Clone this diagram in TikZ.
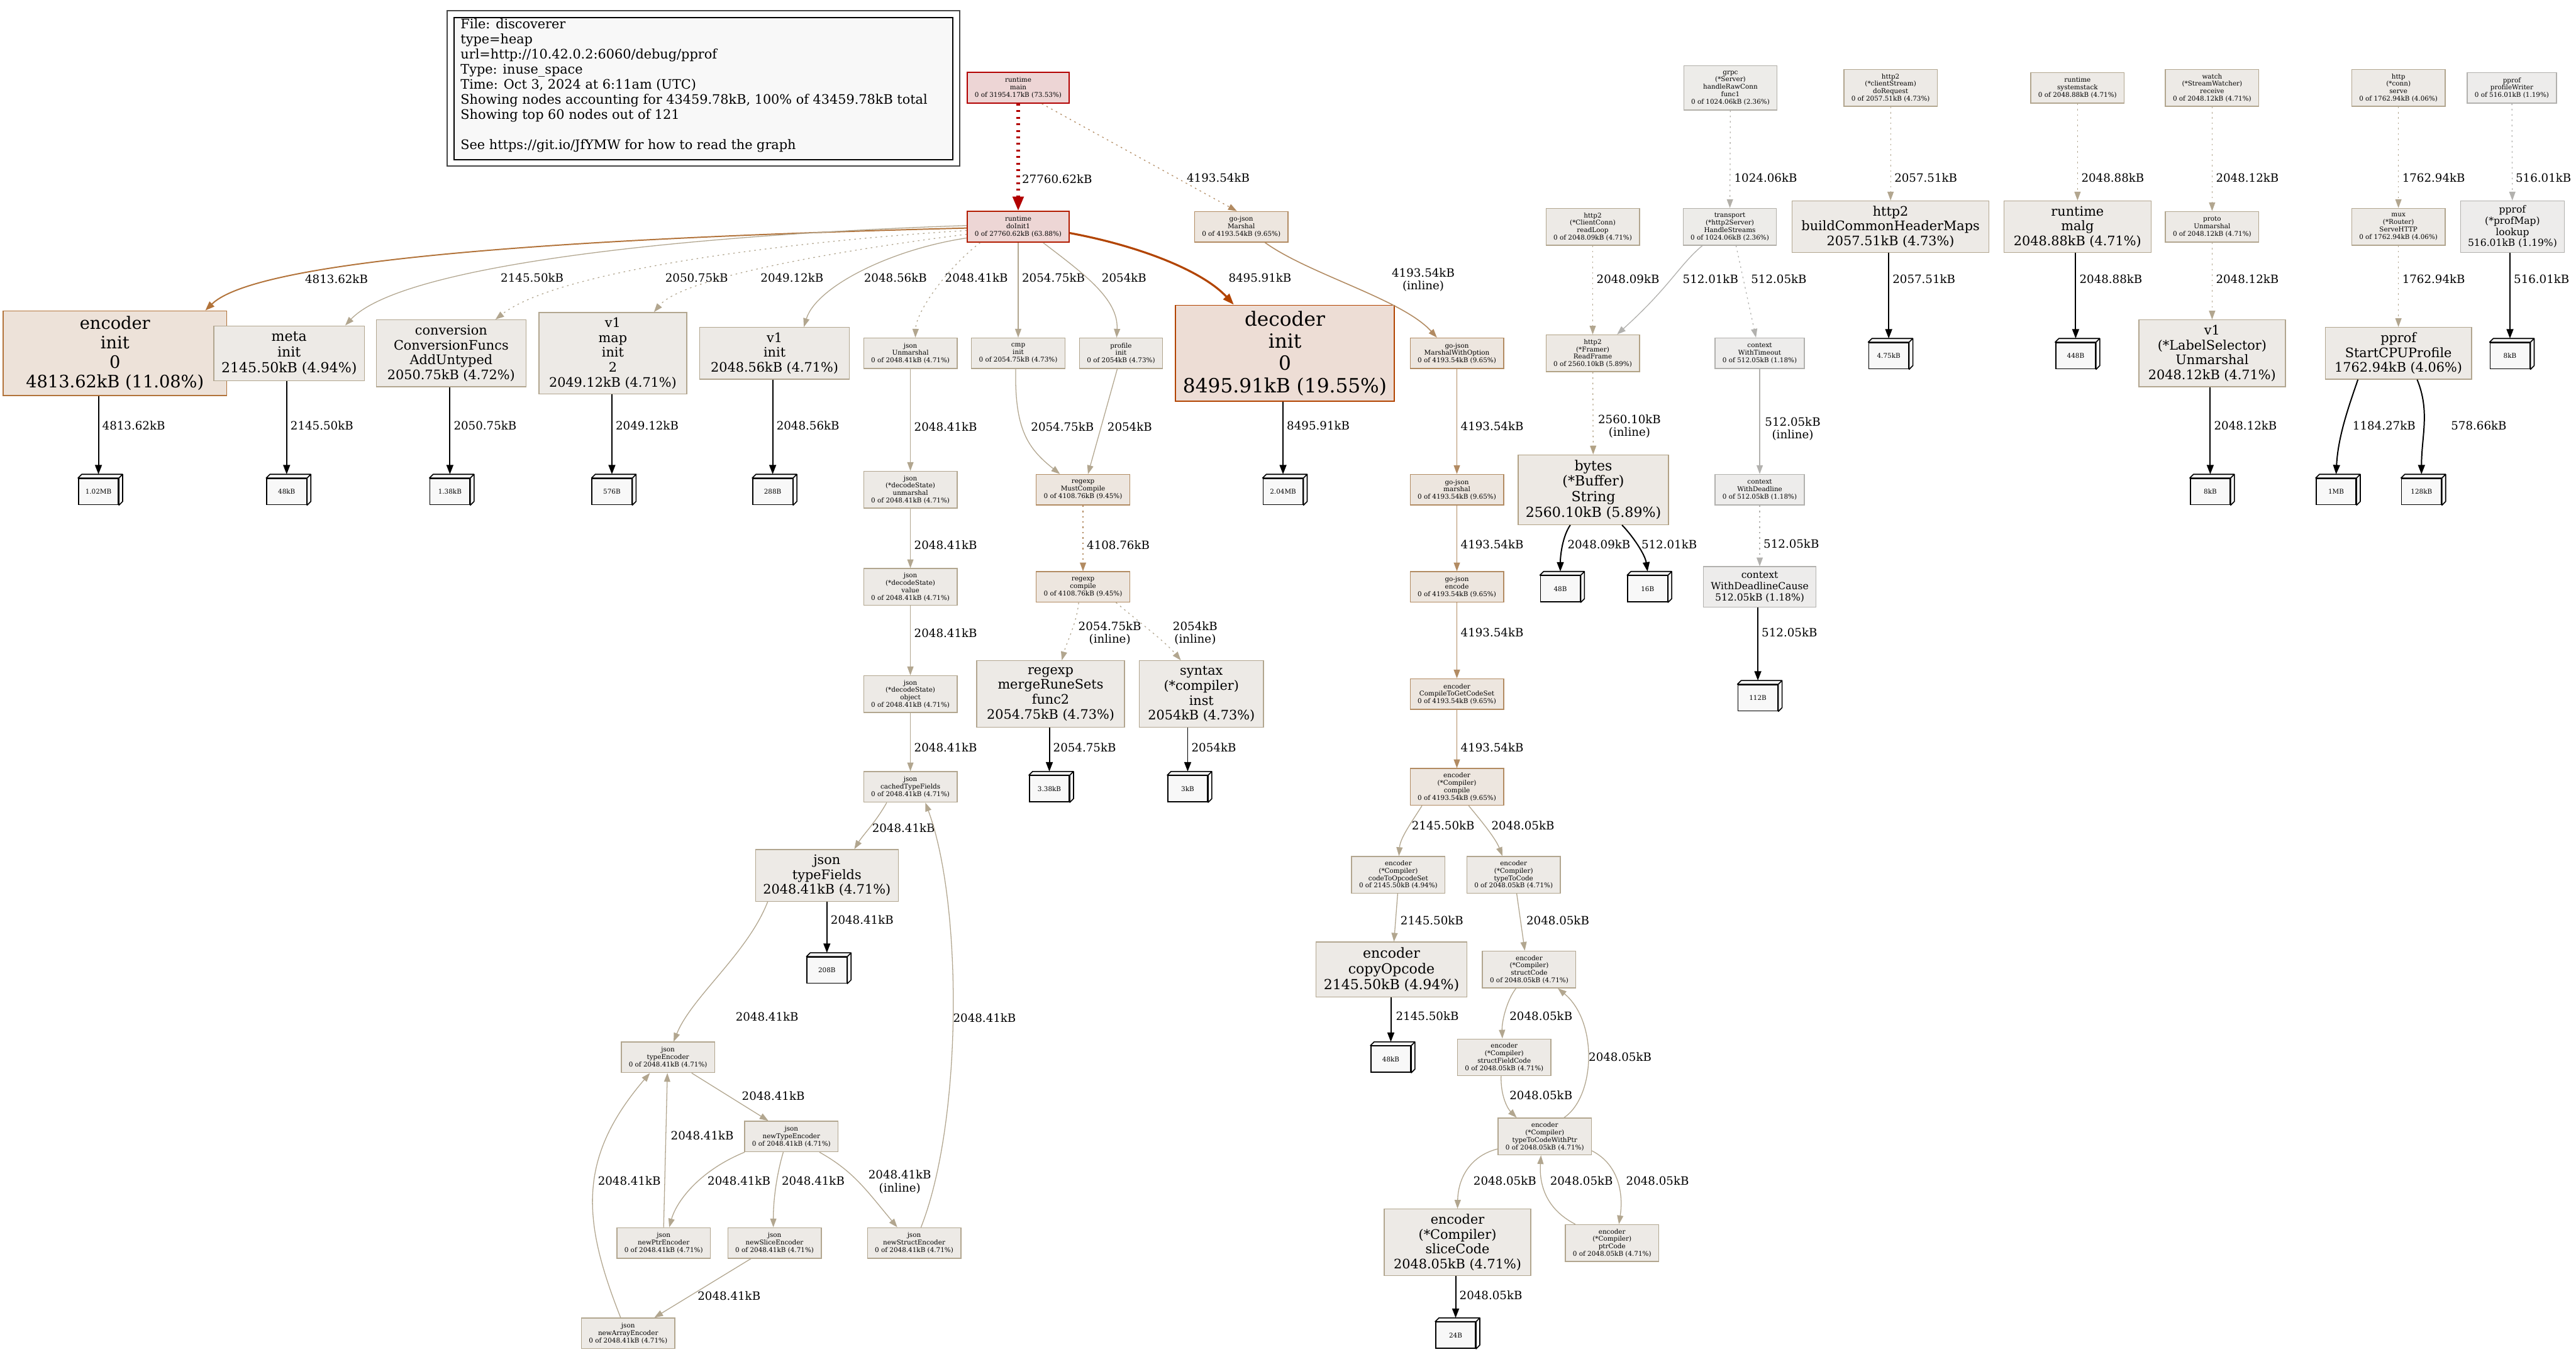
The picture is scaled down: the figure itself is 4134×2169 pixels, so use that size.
\documentclass[tikz,border=0pt]{standalone}
\usepackage{fontspec}
\setmainfont{DejaVu Serif}
\usetikzlibrary{arrows.meta,calc}
\definecolor{cRed}{HTML}{B20000}
\definecolor{fRed}{HTML}{EDD5D5}
\definecolor{cInit}{HTML}{B21B00}
\definecolor{fInit}{HTML}{EDD6D5}
\definecolor{cDec}{HTML}{B24400}
\definecolor{fDec}{HTML}{EDDDD5}
\definecolor{cEnc}{HTML}{B2733A}
\definecolor{fEnc}{HTML}{EDE2D9}
\definecolor{cGo}{HTML}{B28B62}
\definecolor{fGo}{HTML}{EDE6DF}
\definecolor{cTan}{HTML}{B2A68F}
\definecolor{fTan}{HTML}{EDEAE6}
\definecolor{cByt}{HTML}{B2A285}
\definecolor{fByt}{HTML}{EDE9E4}
\definecolor{cGr}{HTML}{B2B1AE}
\definecolor{fGr}{HTML}{EDECEB}
\definecolor{cGrB}{HTML}{B2AFA8}
\definecolor{fGrB}{HTML}{EDECE9}
\definecolor{leaffill}{HTML}{F8F8F8}
\definecolor{legfill}{HTML}{F8F8F8}
\definecolor{legout}{HTML}{444444}
\newcommand\myfA{\fontsize{10.5}{11.9}\selectfont}
\newcommand\myfL{\fontsize{18.4}{20.5}\selectfont}
\newcommand\myfG{\fontsize{21}{24.2}\selectfont}
\newcommand\myfP{\fontsize{15.7}{17.8}\selectfont}
\newcommand\myfM{\fontsize{21}{23.8}\selectfont}
\newcommand\myfN{\fontsize{22.3}{25.2}\selectfont}
\newcommand\myfE{\fontsize{27.5}{31.2}\selectfont}
\newcommand\myfD{\fontsize{31.5}{35.7}\selectfont}
\newcommand\leafnode[4]{%
  \node[leafs] (#1) at ({#2-3},{#3+3}) {#4};
  \draw[leafline] (#1.north west) -- ([shift={(6,-6)}]#1.north west) -- ([shift={(6,-6)}]#1.north east) -- ([shift={(6,-6)}]#1.south east) -- (#1.south east) -- (#1.north east) -- cycle (#1.north east) -- ([shift={(6,-6)}]#1.north east);
}
\tikzset{
  gn/.style={draw, rectangle, align=center, inner xsep=12pt, inner ysep=0pt, line width=1.4pt},
  s3/.style={gn, font=\myfA, minimum height=49},
  s4/.style={gn, font=\myfA, minimum height=59},
  s5/.style={gn, font=\myfA, minimum height=71},
  kTan/.style={draw=cTan, fill=fTan},
  kGo/.style={draw=cGo, fill=fGo},
  kByt/.style={draw=cByt, fill=fByt},
  kGr/.style={draw=cGr, fill=fGr},
  kGrB/.style={draw=cGrB, fill=fGrB},
  lab/.style={font=\myfL, align=center, inner sep=0pt},
  lw/.style={lab, anchor=west},
  ed/.style={line width=1.3pt, -{Triangle[length=14pt,width=10pt]}},
  dotd/.style={dash pattern=on 2.5pt off 6pt},
  leafs/.style={draw=black, fill=leaffill, line width=1.6pt, minimum width=64, minimum height=42, inner sep=0pt, font=\myfA},
  leafline/.style={draw=black, fill=leaffill, line width=1.6pt, line join=round},
  le/.style={draw=black, line width=2pt, -{Triangle[length=15pt,width=11pt]}},
}
\begin{document}
\begin{tikzpicture}[x=1pt,y=-1pt]
\useasboundingbox[fill=white] (0,0) rectangle (4134,2169);

% legend
\node[draw=legout,line width=2pt,minimum width=822,minimum height=249,anchor=north west,inner sep=0pt] (lego) at (717,16) {};
\node[draw=black,fill=legfill,line width=2pt,minimum width=800,minimum height=228,anchor=north west,inner sep=0pt] (legi) at (728,27) {};
\node[font=\myfG,align=left,anchor=north west,inner sep=0pt] (legt) at (739,30) {File: discoverer\\type=heap\\url=http://10.42.0.2:6060/debug/pprof\\Type: inuse\_space\\Time: Oct 3, 2024 at 6:11am (UTC)\\Showing nodes accounting for 43459.78kB, 100\% of 43459.78kB total\\Showing top 60 nodes out of 121\\~\\See https://git.io/JfYMW for how to read the graph};

% row 141
\node[s3, draw=cRed, fill=fRed, line width=2pt] (main) at (1634,141) {runtime\\main\\0 of 31954.17kB (73.53\%)};
\node[s5, kGrB] (grpc) at (2777,141) {grpc\\(*Server)\\handleRawConn\\func1\\0 of 1024.06kB (2.36\%)};
\node[s4, kTan] (doreq) at (3034,141) {http2\\(*clientStream)\\doRequest\\0 of 2057.51kB (4.73\%)};
\node[s3, kTan] (sysstack) at (3334,141) {runtime\\systemstack\\0 of 2048.88kB (4.71\%)};
\node[s4, kTan] (watch) at (3550,141) {watch\\(*StreamWatcher)\\receive\\0 of 2048.12kB (4.71\%)};
\node[s4, kTan] (httpserve) at (3849,141) {http\\(*conn)\\serve\\0 of 1762.94kB (4.06\%)};
\node[s3, kGr] (profw) at (4031,141) {pprof\\profileWriter\\0 of 516.01kB (1.19\%)};

% row 364
\node[s3, draw=cInit, fill=fInit, line width=2pt] (doinit) at (1634,364) {runtime\\doInit1\\0 of 27760.62kB (63.88\%)};
\node[s3, kGo] (gjm) at (1992,364) {go-json\\Marshal\\0 of 4193.54kB (9.65\%)};
\node[s4, kTan] (readloop) at (2556,364) {http2\\(*ClientConn)\\readLoop\\0 of 2048.09kB (4.71\%)};
\node[s4, kGrB] (hstreams) at (2776,364) {transport\\(*http2Server)\\HandleStreams\\0 of 1024.06kB (2.36\%)};
\node[gn, kTan, font=\myfM, minimum width=316, minimum height=83] (bchm) at (3034,364) {http2\\buildCommonHeaderMaps\\2057.51kB (4.73\%)};
\node[gn, kTan, font=\myfM, minimum width=236, minimum height=83] (malg) at (3334,364) {runtime\\malg\\2048.88kB (4.71\%)};
\node[s3, kTan] (protou) at (3550,364) {proto\\Unmarshal\\0 of 2048.12kB (4.71\%)};
\node[s4, kTan] (mux) at (3849,364) {mux\\(*Router)\\ServeHTTP\\0 of 1762.94kB (4.06\%)};
\node[gn, kGr, font=\myfP, minimum width=167, minimum height=83] (lookup) at (4032,364) {pprof\\(*profMap)\\lookup\\516.01kB (1.19\%)};

% row 567
\node[gn, draw=cEnc, fill=fEnc, font=\myfE, minimum width=359, minimum height=136] (encinit) at (184.5,567) {encoder\\init\\0\\4813.62kB (11.08\%)};
\node[gn, kTan, font=\myfN, minimum width=242, minimum height=88] (metainit) at (464,567) {meta\\init\\2145.50kB (4.94\%)};
\node[gn, kTan, font=\myfM, minimum width=240, minimum height=107] (conv) at (724,567) {conversion\\ConversionFuncs\\AddUntyped\\2050.75kB (4.72\%)};
\node[gn, kTan, font=\myfM, minimum width=237, minimum height=131] (v1map) at (983.5,567) {v1\\map\\init\\2\\2049.12kB (4.71\%)};
\node[gn, kTan, font=\myfM, minimum width=240, minimum height=83] (v1init) at (1243,567) {v1\\init\\2048.56kB (4.71\%)};
\node[s3, kTan] (jsonu) at (1461,567) {json\\Unmarshal\\0 of 2048.41kB (4.71\%)};
\node[s3, kTan] (cmpinit) at (1634,567) {cmp\\init\\0 of 2054.75kB (4.73\%)};
\node[s3, kTan] (profinit) at (1799,567) {profile\\init\\0 of 2054kB (4.73\%)};
\node[gn, draw=cDec, fill=fDec, font=\myfD, minimum width=348, minimum height=154, line width=2pt] (decinit) at (2062,567) {decoder\\init\\0\\8495.91kB (19.55\%)};
\node[s3, kGo] (gjmwo) at (2338,567) {go-json\\MarshalWithOption\\0 of 4193.54kB (9.65\%)};
\node[s4, kByt] (readframe) at (2556,567) {http2\\(*Framer)\\ReadFrame\\0 of 2560.10kB (5.89\%)};
\node[s3, kGr] (withtimeout) at (2824,567) {context\\WithTimeout\\0 of 512.05kB (1.18\%)};
\leafnode{l475}{3034}{568}{4.75kB}
\leafnode{l448}{3334}{568}{448B}
\node[gn, kTan, font=\myfM, minimum width=235, minimum height=107] (labelsel) at (3550,567) {v1\\(*LabelSelector)\\Unmarshal\\2048.12kB (4.71\%)};
\node[gn, kTan, font=\myfM, minimum width=235, minimum height=83] (cpuprof) at (3849,567) {pprof\\StartCPUProfile\\1762.94kB (4.06\%)};
\leafnode{l8k}{4031}{568}{8kB}

% row 786
\leafnode{l102}{161}{786}{1.02MB}
\leafnode{l48k}{463}{786}{48kB}
\leafnode{l138}{725}{786}{1.38kB}
\leafnode{l576}{985}{786}{576B}
\leafnode{l288}{1243}{786}{288B}
\node[s4, kTan] (jsonunm) at (1461,786) {json\\(*decodeState)\\unmarshal\\0 of 2048.41kB (4.71\%)};
\node[s3, kGo] (mustc) at (1738,786) {regexp\\MustCompile\\0 of 4108.76kB (9.45\%)};
\leafnode{l204}{2062}{786}{2.04MB}
\node[s3, kGo] (gjmarsh) at (2338,786) {go-json\\marshal\\0 of 4193.54kB (9.65\%)};
\node[gn, kByt, font=\myfN, minimum width=240, minimum height=112] (bytesstr) at (2557,786) {bytes\\(*Buffer)\\String\\2560.10kB (5.89\%)};
\node[s3, kGr] (withdl) at (2824,786) {context\\WithDeadline\\0 of 512.05kB (1.18\%)};
\leafnode{l8kb}{3550}{786}{8kB}
\leafnode{l1mb}{3752}{786}{1MB}
\leafnode{l128k}{3889}{786}{128kB}

% row 942
\node[s4, kTan] (jsonval) at (1461,942) {json\\(*decodeState)\\value\\0 of 2048.41kB (4.71\%)};
\node[s3, kGo] (rcompile) at (1738,942) {regexp\\compile\\0 of 4108.76kB (9.45\%)};
\node[s3, kGo] (gjenc) at (2338,942) {go-json\\encode\\0 of 4193.54kB (9.65\%)};
\leafnode{l48b}{2507}{942}{48B}
\leafnode{l16b}{2647}{942}{16B}
\node[gn, kGr, font=\myfP, minimum width=179, minimum height=65] (wdcause) at (2824,942) {context\\WithDeadlineCause\\512.05kB (1.18\%)};

% row 1114
\node[s4, kTan] (jsonobj) at (1461,1114) {json\\(*decodeState)\\object\\0 of 2048.41kB (4.71\%)};
\node[gn, kTan, font=\myfM, minimum width=237, minimum height=107] (mrs) at (1686,1114) {regexp\\mergeRuneSets\\func2\\2054.75kB (4.73\%)};
\node[gn, kTan, font=\myfM, minimum width=199, minimum height=107] (sinst) at (1928,1114) {syntax\\(*compiler)\\inst\\2054kB (4.73\%)};
\node[s3, kGo] (ctgcs) at (2338,1114) {encoder\\CompileToGetCodeSet\\0 of 4193.54kB (9.65\%)};
\leafnode{l112}{2824}{1117}{112B}

% row 1263
\node[s3, kTan] (ctf) at (1461,1263) {json\\cachedTypeFields\\0 of 2048.41kB (4.71\%)};
\leafnode{l338}{1687}{1263}{3.38kB}
\leafnode{l3k}{1909}{1263}{3kB}
\node[s4, kGo] (ecomp) at (2338,1263) {encoder\\(*Compiler)\\compile\\0 of 4193.54kB (9.65\%)};

% row 1404
\node[gn, kTan, font=\myfM, minimum width=229, minimum height=83] (tfields) at (1327,1405) {json\\typeFields\\2048.41kB (4.71\%)};
\node[s4, kTan] (c2os) at (2244,1404) {encoder\\(*Compiler)\\codeToOpcodeSet\\0 of 2145.50kB (4.94\%)};
\node[s4, kTan] (t2c) at (2429,1404) {encoder\\(*Compiler)\\typeToCode\\0 of 2048.05kB (4.71\%)};

% row 1556
\leafnode{l208}{1330}{1554}{208B}
\node[gn, kTan, font=\myfN, minimum width=242, minimum height=88] (copyop) at (2233,1556) {encoder\\copyOpcode\\2145.50kB (4.94\%)};
\node[s4, kTan] (scode) at (2454,1556) {encoder\\(*Compiler)\\structCode\\0 of 2048.05kB (4.71\%)};

% row 1697
\node[s3, kTan] (tenc) at (1072,1697) {json\\typeEncoder\\0 of 2048.41kB (4.71\%)};
\leafnode{l48kb}{2235}{1697}{48kB}
\node[s4, kTan] (sfcode) at (2414,1697) {encoder\\(*Compiler)\\structFieldCode\\0 of 2048.05kB (4.71\%)};

% row 1824
\node[s3, kTan] (ntenc) at (1270,1824) {json\\newTypeEncoder\\0 of 2048.41kB (4.71\%)};
\node[s4, kTan] (t2cwp) at (2479,1824) {encoder\\(*Compiler)\\typeToCodeWithPtr\\0 of 2048.05kB (4.71\%)};

% row 1995
\node[s3, kTan] (nptr) at (1065,1995) {json\\newPtrEncoder\\0 of 2048.41kB (4.71\%)};
\node[s3, kTan] (nslice) at (1243,1995) {json\\newSliceEncoder\\0 of 2048.41kB (4.71\%)};
\node[s3, kTan] (nstruct) at (1467,1995) {json\\newStructEncoder\\0 of 2048.41kB (4.71\%)};
\node[gn, kTan, font=\myfM, minimum width=235, minimum height=107] (slicec) at (2339,1994) {encoder\\(*Compiler)\\sliceCode\\2048.05kB (4.71\%)};
\node[s4, kTan] (ptrc) at (2587,1995) {encoder\\(*Compiler)\\ptrCode\\0 of 2048.05kB (4.71\%)};

% row 2140
\node[s3, kTan] (narr) at (1008,2140) {json\\newArrayEncoder\\0 of 2048.41kB (4.71\%)};
\leafnode{l24}{2339}{2140}{24B}

% ---------------- edges ----------------
\draw[ed, cRed, line width=5.5pt, dash pattern=on 3pt off 7.5pt, -{Triangle[length=23pt,width=17pt]}] (main) -- (doinit);
\node[lw] (b1) at (1640,287) {27760.62kB};
\draw[ed, cGo, dotd] ([shift={(38,0)}]main.south) -- ([shift={(-7,0)}]gjm.north);
\node[lab] (b2) at (1955,285) {4193.54kB};
\draw[ed, cGrB, dotd] (grpc) -- (hstreams);
\node[lw] (b3) at (2783,285) {1024.06kB};
\draw[ed, cTan, dotd] (doreq) -- (bchm);
\node[lw] (b4) at (3040,285) {2057.51kB};
\draw[ed, cTan, dotd] (sysstack) -- (malg);
\node[lw] (b5) at (3340,285) {2048.88kB};
\draw[ed, cTan, dotd] (watch) -- (protou);
\node[lw] (b6) at (3556,285) {2048.12kB};
\draw[ed, cTan, dotd] (httpserve) -- (mux);
\node[lw] (b7) at (3855,285) {1762.94kB};
\draw[ed, cGr, dotd] (profw) -- (lookup);
\node[lw] (b8) at (4037,285) {516.01kB};

\draw[ed, cTan, dotd] (readloop) -- (readframe);
\node[lw] (b9) at (2562,448) {2048.09kB};
\draw[ed, cGr] ([shift={(-44,0)}]hstreams.south) .. controls (2695,425) and (2680,460) .. ([shift={(39,0)}]readframe.north);
\node[lab] (b10) at (2745,448) {512.01kB};
\draw[ed, cGr, dotd] ([shift={(10,0)}]hstreams.south) -- ([shift={(-6,0)}]withtimeout.north);
\node[lw] (b11) at (2810,448) {512.05kB};
\draw[le] (bchm.south -| l475) -- ([yshift=6pt]l475.north);
\node[lw] (b12) at (3037,448) {2057.51kB};
\draw[le] (malg.south -| l448) -- ([yshift=6pt]l448.north);
\node[lw] (b13) at (3337,448) {2048.88kB};
\draw[ed, cTan, dotd] (protou) -- (labelsel);
\node[lw] (b14) at (3556,448) {2048.12kB};
\draw[ed, cTan, dotd] (mux) -- (cpuprof);
\node[lw] (b15) at (3855,448) {1762.94kB};
\draw[le] (lookup.south -| l8k) -- ([yshift=6pt]l8k.north);
\node[lw] (b16) at (4034,448) {516.01kB};

% fan from doInit1
\draw[ed, cEnc, line width=2pt, -{Triangle[length=15pt,width=11pt]}] ([shift={(0,2)}]doinit.west) .. controls (1000,380) and (420,410) .. ([shift={(145,0)}]encinit.north);
\node[lab] (b17) at (540,448) {4813.62kB};
\draw[ed, cTan] ([shift={(0,-2)}]doinit.west) .. controls (1150,375) and (650,420) .. ([shift={(90,0)}]metainit.north);
\node[lab] (b18) at (854,446) {2145.50kB};
\draw[ed, cTan, dotd] ([shift={(0,6)}]doinit.west) .. controls (1300,385) and (900,430) .. ([shift={(71,0)}]conv.north);
\node[lab] (b19) at (1118,446) {2050.75kB};
\draw[ed, cTan, dotd] ([shift={(0,12)}]doinit.west) .. controls (1400,395) and (1100,440) .. ([shift={(66,0)}]v1map.north);
\node[lab] (b20) at (1271,446) {2049.12kB};
\draw[ed, cTan] ([shift={(0,18)}]doinit.west) .. controls (1430,400) and (1310,460) .. ([shift={(47,0)}]v1init.north);
\node[lab] (b21) at (1437,446) {2048.56kB};
\draw[ed, cTan, dotd] ([shift={(-61,0)}]doinit.south) .. controls (1520,430) and (1470,500) .. ([shift={(8,0)}]jsonu.north);
\node[lab] (b22) at (1567,446) {2048.41kB};
\draw[ed, cTan] (doinit) -- (cmpinit);
\node[lw] (b23) at (1640,446) {2054.75kB};
\draw[ed, cTan] ([shift={(40,0)}]doinit.south) .. controls (1740,440) and (1795,480) .. ([shift={(-7,0)}]profinit.north);
\node[lw] (b24) at (1768,446) {2054kB};
\draw[ed, cDec, line width=3.2pt, -{Triangle[length=18pt,width=13pt]}] ([shift={(0,10)}]doinit.east) .. controls (1830,395) and (1930,435) .. ([shift={(-82,0)}]decinit.north);
\node[lab] (b25) at (2022,446) {8495.91kB};
\draw[ed, cGo, line width=1.6pt] ([shift={(38,0)}]gjm.south) .. controls (2100,440) and (2250,480) .. ([shift={(-32,0)}]gjmwo.north);
\node[lab] (b26) at (2284,449) {4193.54kB\\(inline)};

% row 567 -> 786
\draw[le] (encinit.south -| l102) -- ([yshift=6pt]l102.north);
\node[lw] (b27) at (164,683) {4813.62kB};
\draw[le] (metainit.south -| l48k) -- ([yshift=6pt]l48k.north);
\node[lw] (b28) at (466,683) {2145.50kB};
\draw[le] (conv.south -| l138) -- ([yshift=6pt]l138.north);
\node[lw] (b29) at (728,683) {2050.75kB};
\draw[le] (v1map.south -| l576) -- ([yshift=6pt]l576.north);
\node[lw] (b30) at (988,683) {2049.12kB};
\draw[le] (v1init.south -| l288) -- ([yshift=6pt]l288.north);
\node[lw] (b31) at (1246,683) {2048.56kB};
\draw[ed, cTan] (jsonu) -- (jsonunm);
\node[lw] (b32) at (1467,685) {2048.41kB};
\draw[ed, cTan] ([shift={(-4,0)}]cmpinit.south) .. controls (1628,690) and (1650,720) .. ([shift={(-37,0)}]mustc.north);
\node[lab] (b33) at (1705,685) {2054.75kB};
\draw[ed, cTan] ([shift={(-6,0)}]profinit.south) -- ([shift={(8,0)}]mustc.north);
\node[lab] (b34) at (1813,685) {2054kB};
\draw[le] (decinit.south -| l204) -- ([yshift=6pt]l204.north);
\node[lw] (b35) at (2065,683) {8495.91kB};
\draw[ed, cGo, line width=1.6pt] (gjmwo) -- (gjmarsh);
\node[lw] (b36) at (2344,684) {4193.54kB};
\draw[ed, cByt, dotd] (readframe) -- (bytesstr);
\node[lab] (b37) at (2615,684) {2560.10kB\\(inline)};
\draw[ed, cGr] (withtimeout) -- (withdl);
\node[lab] (b38) at (2877,688) {512.05kB\\(inline)};
\draw[le] (labelsel.south -| l8kb) -- ([yshift=6pt]l8kb.north);
\node[lw] (b39) at (3553,683) {2048.12kB};
\draw[le] ([shift={(-65,0)}]cpuprof.south) .. controls (3770,650) and (3752,700) .. ([yshift=6pt]l1mb.north);
\node[lab] (b40) at (3826,683) {1184.27kB};
\draw[le] ([shift={(30,0)}]cpuprof.south) .. controls (3900,660) and (3886,700) .. ([yshift=6pt]l128k.north);
\node[lab] (b41) at (3978,683) {578.66kB};

% row 786 -> 942
\draw[ed, cTan] (jsonunm) -- (jsonval);
\node[lw] (b42) at (1467,875) {2048.41kB};
\draw[ed, cGo, dotd] (mustc) -- (rcompile);
\node[lw] (b43) at (1744,875) {4108.76kB};
\draw[ed, cGo, line width=1.6pt] (gjmarsh) -- (gjenc);
\node[lw] (b44) at (2344,874) {4193.54kB};
\draw[le] ([shift={(-37,0)}]bytesstr.south) .. controls (2508,860) and (2504,890) .. ([yshift=6pt]l48b.north);
\node[lab] (b45) at (2566,874) {2048.09kB};
\draw[le] ([shift={(46,0)}]bytesstr.south) .. controls (2620,860) and (2640,890) .. ([yshift=6pt]l16b.north);
\node[lw] (b46) at (2634,874) {512.01kB};
\draw[ed, cGr, dotd] (withdl) -- (wdcause);
\node[lw] (b47) at (2830,873) {512.05kB};

% row 942 -> 1114
\draw[ed, cTan] (jsonval) -- (jsonobj);
\node[lw] (b48) at (1467,1016) {2048.41kB};
\draw[ed, cTan, dotd] ([shift={(-7,0)}]rcompile.south) .. controls (1728,1000) and (1712,1030) .. ([shift={(18,0)}]mrs.north);
\node[lab] (b49) at (1781,1016) {2054.75kB\\(inline)};
\draw[ed, cTan, dotd] ([shift={(53,0)}]rcompile.south) .. controls (1830,1000) and (1870,1030) .. ([shift={(-33,0)}]sinst.north);
\node[lab] (b50) at (1918,1016) {2054kB\\(inline)};
\draw[ed, cGo, line width=1.6pt] (gjenc) -- (ctgcs);
\node[lw] (b51) at (2344,1015) {4193.54kB};
\draw[le] (wdcause.south -| l112) -- ([yshift=6pt]l112.north);
\node[lw] (b52) at (2827,1015) {512.05kB};

% row 1114 -> 1263
\draw[ed, cTan] (jsonobj) -- (ctf);
\node[lw] (b53) at (1467,1200) {2048.41kB};
\draw[le] (mrs.south -| l338) -- ([yshift=6pt]l338.north);
\node[lw] (b54) at (1690,1200) {2054.75kB};
\draw[le] (sinst.south -| l3k) -- ([yshift=6pt]l3k.north);
\node[lw] (b55) at (1912,1200) {2054kB};
\draw[ed, cGo, line width=1.6pt] (ctgcs) -- (ecomp);
\node[lw] (b56) at (2344,1200) {4193.54kB};

% json lower
\draw[ed, cTan] ([shift={(-38,0)}]ctf.south) .. controls (1405,1320) and (1385,1340) .. ([shift={(44,0)}]tfields.north);
\node[lab] (b57) at (1450,1329) {2048.41kB};
\draw[le] (tfields.south -| l208) -- ([yshift=6pt]l208.north);
\node[lw] (b58) at (1333,1476) {2048.41kB};
\draw[ed, cTan] ([shift={(-95,0)}]tfields.south) .. controls (1200,1530) and (1110,1600) .. ([shift={(9,0)}]tenc.north);
\node[lab] (b59) at (1231,1632) {2048.41kB};
\draw[ed, cTan] ([shift={(11,0)}]nstruct.north) .. controls (1545,1800) and (1545,1450) .. ([shift={(24,0)}]ctf.south);
\node[lab] (b60) at (1580,1634) {2048.41kB};
\draw[ed, cTan] ([shift={(38,0)}]tenc.south) -- ([shift={(-37,0)}]ntenc.north);
\node[lab] (b61) at (1241,1759) {2048.41kB};
\draw[ed, cTan] (nptr.north) -- ([shift={(-1,0)}]tenc.south);
\node[lab] (b62) at (1127,1822) {2048.41kB};
\draw[ed, cTan] ([shift={(-12,0)}]narr.north) .. controls (935,1960) and (925,1860) .. ([shift={(-29,0)}]tenc.south);
\node[lab] (b63) at (1010,1895) {2048.41kB};
\draw[ed, cTan] ([shift={(-75,0)}]ntenc.south) .. controls (1120,1880) and (1085,1930) .. ([shift={(9,0)}]nptr.north);
\node[lab] (b64) at (1186,1895) {2048.41kB};
\draw[ed, cTan] ([shift={(-13,0)}]ntenc.south) .. controls (1245,1890) and (1241,1930) .. ([shift={(-2,0)}]nslice.north);
\node[lab] (b65) at (1305,1895) {2048.41kB};
\draw[ed, cTan] ([shift={(45,0)}]ntenc.south) .. controls (1370,1880) and (1390,1910) .. ([shift={(-27,0)}]nstruct.north);
\node[lab] (b66) at (1444,1897) {2048.41kB\\(inline)};
\draw[ed, cTan] ([shift={(-38,0)}]nslice.south) -- ([shift={(42,0)}]narr.north);
\node[lab] (b67) at (1170,2080) {2048.41kB};

% encoder lower
\draw[ed, cTan] ([shift={(-56,0)}]ecomp.south) .. controls (2265,1320) and (2247,1345) .. ([shift={(1,0)}]c2os.north);
\node[lab] (b68) at (2316,1325) {2145.50kB};
\draw[ed, cTan] ([shift={(19,0)}]ecomp.south) .. controls (2375,1315) and (2400,1345) .. ([shift={(-18,0)}]t2c.north);
\node[lab] (b69) at (2444,1325) {2048.05kB};
\draw[ed, cTan] ([shift={(-1,0)}]c2os.south) -- ([shift={(4,0)}]copyop.north);
\node[lab] (b70) at (2298,1477) {2145.50kB};
\draw[ed, cTan] ([shift={(5,0)}]t2c.south) -- ([shift={(-7,0)}]scode.north);
\node[lab] (b71) at (2500,1477) {2048.05kB};
\draw[le] (copyop.south -| l48kb) -- ([yshift=6pt]l48kb.north);
\node[lw] (b72) at (2240,1631) {2145.50kB};
\draw[ed, cTan] ([shift={(-21,0)}]scode.south) .. controls (2418,1605) and (2410,1640) .. ([shift={(-3,0)}]sfcode.north);
\node[lab] (b73) at (2473,1631) {2048.05kB};
\draw[ed, cTan] ([shift={(31,0)}]t2cwp.north) .. controls (2560,1760) and (2565,1640) .. ([shift={(46,0)}]scode.south);
\node[lab] (b74) at (2600,1696) {2048.05kB};
\draw[ed, cTan] ([shift={(-5,0)}]sfcode.south) .. controls (2408,1760) and (2420,1780) .. ([shift={(-45,0)}]t2cwp.north);
\node[lab] (b75) at (2473,1758) {2048.05kB};
\draw[ed, cTan] ([shift={(0,20)}]t2cwp.west) .. controls (2360,1855) and (2340,1890) .. (slicec.north);
\node[lab] (b76) at (2415,1895) {2048.05kB};
\draw[ed, cTan] ([shift={(-59,0)}]ptrc.north) .. controls (2480,1940) and (2470,1900) .. ([shift={(-6,0)}]t2cwp.south);
\node[lab] (b77) at (2538,1895) {2048.05kB};
\draw[ed, cTan] ([shift={(0,23)}]t2cwp.east) .. controls (2600,1870) and (2605,1920) .. ([shift={(11,0)}]ptrc.north);
\node[lab] (b78) at (2660,1895) {2048.05kB};
\draw[le] (slicec.south -| l24) -- ([yshift=6pt]l24.north);
\node[lw] (b79) at (2342,2079) {2048.05kB};
\end{tikzpicture}
\end{document}
